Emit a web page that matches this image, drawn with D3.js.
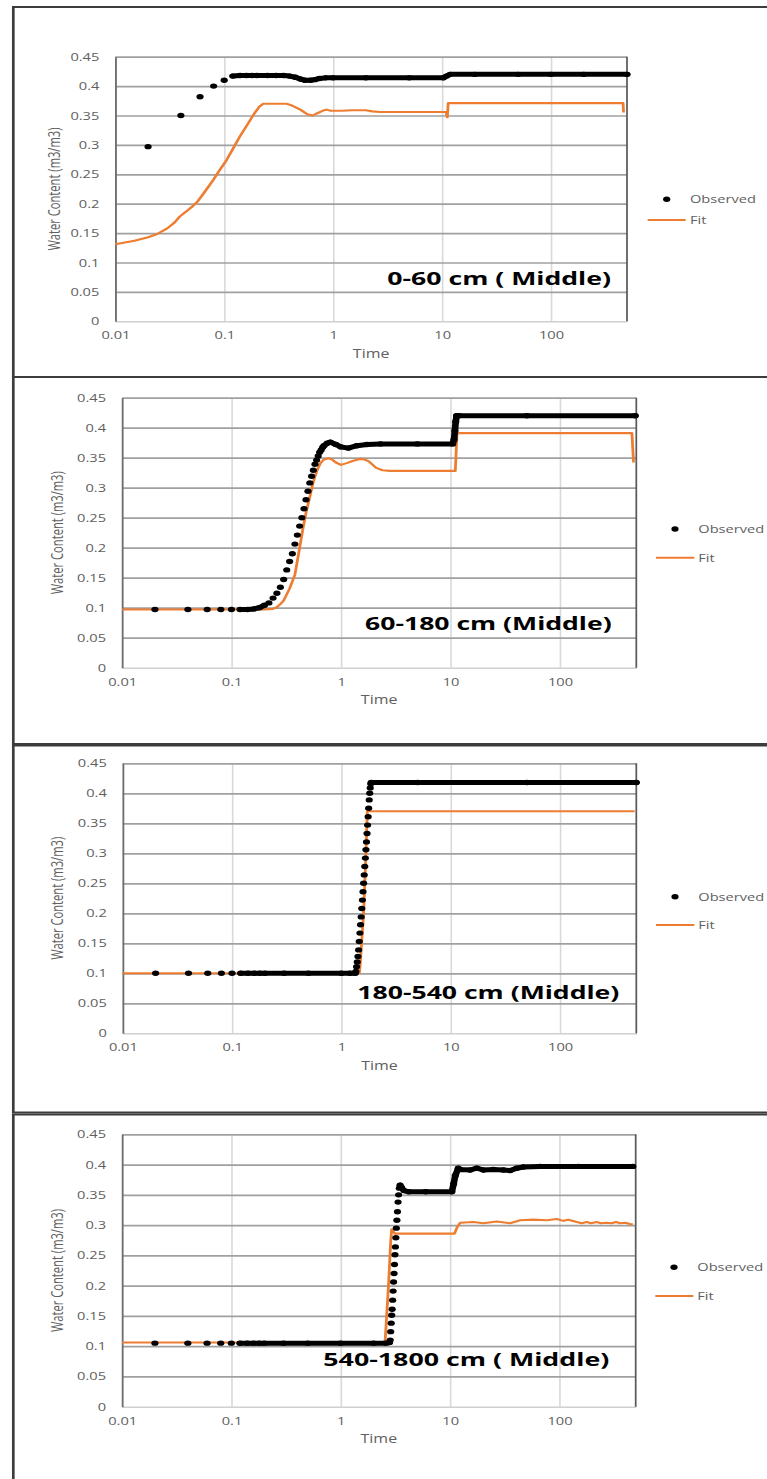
<!DOCTYPE html>
<html>
<head>
<meta charset="utf-8">
<script src="https://cdn.jsdelivr.net/npm/d3@7/dist/d3.min.js"></script>
<style>
  html, body { margin: 0; padding: 0; background: #fff; }
  svg { display: block; }
</style>
</head>
<body>
<svg id="chart" width="767" height="1479"></svg>
<script>
// ---------------- DATA ----------------
const timeTicks = [0.01, 0.1, 1, 10, 100];
const timeTickLabels = ["0.01", "0.1", "1", "10", "100"];
const wcTicks = [0, 0.05, 0.1, 0.15, 0.2, 0.25, 0.3, 0.35, 0.4, 0.45];
const wcTickLabels = ["0", "0.05", "0.1", "0.15", "0.2", "0.25", "0.3", "0.35", "0.4", "0.45"];
const seriesNames = ["Observed", "Fit"];
const xTitle = "Time";
const yTitle = "Water Content (m3/m3)";
const panelTitles = ["0-60 cm ( Middle)", "60-180 cm (Middle)", "180-540 cm (Middle)", "540-1800 cm ( Middle)"];

// Panel 1: 0-60 cm
const observed1 = [
  [0.02,0.297],[0.04,0.35],[0.06,0.382],[0.08,0.40],[0.10,0.41],
  [0.12,0.417],[0.14,0.418],[0.16,0.418],[0.18,0.418],[0.20,0.418],[0.25,0.418],[0.30,0.418],
  [0.35,0.418],[0.40,0.417],[0.45,0.415],[0.50,0.412],[0.55,0.41],[0.62,0.41],[0.68,0.411],
  [0.75,0.413],[0.85,0.414],[1,0.414],[2,0.414],[5,0.414],[10.3,0.414],[11,0.417],[11.9,0.42],
  [20,0.42],[50,0.42],[100,0.42],[200,0.42],[500,0.42]
];
const fit1 = [
  [0.01,0.131],[0.015,0.137],[0.02,0.143],[0.024,0.148],[0.03,0.158],[0.035,0.168],[0.039,0.178],
  [0.045,0.187],[0.05,0.194],[0.056,0.202],[0.065,0.218],[0.079,0.24],[0.09,0.256],[0.105,0.274],
  [0.12,0.293],[0.139,0.314],[0.16,0.332],[0.19,0.354],[0.21,0.365],[0.228,0.37],[0.3,0.37],
  [0.373,0.37],[0.42,0.367],[0.5,0.36],[0.58,0.352],[0.65,0.35],[0.7,0.353],[0.8,0.358],
  [0.87,0.36],[0.95,0.358],[1.2,0.358],[1.5,0.359],[2.0,0.359],[2.3,0.357],[2.7,0.356],
  [5,0.356],[10.9,0.356],[11.2,0.347],[11.4,0.371],[20,0.371],[100,0.371],[460,0.371],[465,0.355]
];
const denseRanges1 = [[0.12, 500]];

// Panel 2: 60-180 cm
const observed2 = [
  [0.02,0.097],[0.04,0.097],[0.06,0.097],[0.08,0.097],[0.10,0.097],[0.12,0.097],[0.14,0.097],
  [0.16,0.098],[0.18,0.100],[0.20,0.104],[0.22,0.108],[0.24,0.116],[0.26,0.124],[0.28,0.134],
  [0.30,0.147],[0.32,0.163],[0.34,0.177],[0.36,0.190],[0.38,0.206],[0.40,0.221],[0.42,0.236],
  [0.44,0.25],[0.46,0.265],[0.48,0.28],[0.50,0.294],[0.52,0.308],[0.54,0.319],[0.56,0.329],
  [0.58,0.339],[0.60,0.346],[0.62,0.353],[0.64,0.359],[0.66,0.363],[0.68,0.367],[0.70,0.370],
  [0.75,0.374],[0.80,0.376],[0.90,0.372],[1.0,0.368],[1.17,0.366],[1.4,0.37],[1.73,0.372],
  [2.3,0.373],[5,0.373],[10.5,0.373],[10.8,0.38],[11,0.395],[11.2,0.41],[11.4,0.42],[12,0.42],
  [50,0.42],[489,0.42]
];
const fit2 = [
  [0.01,0.097],[0.2,0.097],[0.24,0.098],[0.26,0.101],[0.28,0.106],[0.30,0.112],[0.34,0.132],
  [0.38,0.155],[0.40,0.178],[0.42,0.2],[0.45,0.232],[0.48,0.258],[0.52,0.285],[0.56,0.31],
  [0.60,0.327],[0.65,0.341],[0.70,0.347],[0.77,0.349],[0.83,0.347],[0.9,0.342],[1.0,0.338],
  [1.13,0.341],[1.3,0.345],[1.5,0.348],[1.65,0.347],[1.8,0.344],[2.1,0.333],[2.4,0.329],
  [2.8,0.328],[11.1,0.328],[11.5,0.391],[456,0.391],[472,0.342]
];
const denseRanges2 = [[0.12, 0.2], [0.7, 500]];

// Panel 3: 180-540 cm
const observed3 = [
  [0.02,0.1],[0.04,0.1],[0.06,0.1],[0.08,0.1],[0.10,0.1],[0.12,0.1],[0.14,0.1],[0.16,0.1],
  [0.18,0.1],[0.2,0.1],[0.3,0.1],[0.5,0.1],[1,0.1],[1.2,0.1],[1.34,0.1],
  [1.36,0.103],[1.38,0.111],[1.40,0.119],[1.42,0.128],[1.44,0.139],[1.46,0.153],[1.48,0.167],
  [1.50,0.181],[1.52,0.194],[1.54,0.208],[1.56,0.222],[1.58,0.236],[1.60,0.25],[1.62,0.264],
  [1.64,0.278],[1.66,0.292],[1.68,0.306],[1.70,0.319],[1.72,0.333],[1.74,0.347],[1.76,0.361],
  [1.78,0.375],[1.80,0.389],[1.82,0.40],[1.84,0.409],[1.86,0.416],[1.88,0.418],
  [5,0.418],[50,0.418],[500,0.418]
];
const fit3 = [
  [0.01,0.1],[1.46,0.1],[1.49,0.115],[1.6,0.2],[1.68,0.3],[1.73,0.37],[483,0.37]
];
const denseRanges3 = [[0.12, 1.34], [1.88, 500]];

// Panel 4: 540-1800 cm
const observed4 = [
  [0.02,0.105],[0.04,0.105],[0.06,0.105],[0.08,0.105],[0.10,0.105],[0.12,0.105],[0.14,0.105],
  [0.16,0.105],[0.18,0.105],[0.2,0.105],[0.3,0.105],[0.5,0.105],[1,0.105],[2,0.105],[2.6,0.105],
  [2.8,0.106],
  [2.84,0.11],[2.87,0.124],[2.9,0.138],[2.93,0.151],[2.96,0.161],[2.99,0.176],[3.02,0.191],
  [3.05,0.206],[3.08,0.22],[3.11,0.235],[3.14,0.251],[3.17,0.264],[3.2,0.279],[3.23,0.295],
  [3.27,0.308],[3.31,0.322],[3.35,0.338],[3.39,0.35],[3.44,0.361],[3.5,0.366],
  [3.6,0.362],[3.8,0.357],[4.2,0.355],[6,0.355],[10.4,0.355],[10.8,0.368],[11.2,0.382],
  [11.9,0.394],[12.4,0.392],[15.3,0.391],[17.6,0.394],[20.2,0.391],[24.9,0.392],[30.8,0.391],
  [35.5,0.39],[40.8,0.394],[47,0.396],[66.7,0.397],[150,0.397],[470,0.397]
];
const fit4 = [
  [0.01,0.106],[2.52,0.106],[2.56,0.112],[2.74,0.2],[2.87,0.273],[2.93,0.293],[3.0,0.29],
  [3.13,0.286],[11.0,0.286],[11.6,0.296],[12.4,0.304],[16.4,0.305],[20.2,0.303],[26.8,0.306],
  [35.5,0.303],[43.8,0.308],[57.9,0.309],[76.9,0.308],[94.9,0.31],[109,0.307],[121,0.309],
  [145,0.305],[160,0.303],[178,0.305],[195,0.303],[220,0.305],[240,0.303],[272,0.304],
  [300,0.303],[330,0.305],[360,0.303],[400,0.304],[444,0.302],[470,0.301]
];
const denseRanges4 = [[0.12, 2.8], [3.5, 500]];

const observedSets = [observed1, observed2, observed3, observed4];
const fitSets = [fit1, fit2, fit3, fit4];
const denseSets = [denseRanges1, denseRanges2, denseRanges3, denseRanges4];

// ---------------- LAYOUT (real pixels) ----------------
const S = 1.33; // horizontal stretch of the original picture
const X = v => v / S;
const layouts = [
  { frame:[7,377],      plot:{x0:115.3,x1:627,  y0:56.7,  y1:321.3},  ytx:54.3, leg:{l0:647.7,l1:685.7,m:666.7,t:690,  yo:199.3,yf:220},  title:{x:387.3,y:285.5,w:223.7} },
  { frame:[377,744],    plot:{x0:122,  x1:636.3,y0:397.7, y1:667.7},  ytx:57.3, leg:{l0:656,  l1:694.3,m:675,  t:698.3,yo:529,  yf:557.7}, title:{x:365,  y:630.5,w:246.7} },
  { frame:[745.5,1112.5],plot:{x0:122.7,x1:636.3,y0:763.3, y1:1033.3}, ytx:57.3, leg:{l0:656,  l1:694.3,m:675,  t:698.3,yo:896.7,yf:925},   title:{x:357.3,y:999,  w:262} },
  { frame:[1114.5,1520],plot:{x0:122,  x1:635.7,y0:1134.3,y1:1406.7}, ytx:57.3, leg:{l0:655.3,l1:693.3,m:674,  t:697.3,yo:1267.3,yf:1296},title:{x:323.3,y:1366.5,w:286} }
];

const FONT = "'Open Sans', 'Liberation Sans', sans-serif";
const GREY_TEXT = "#606060";
const ORANGE = "#ED7D31";

const svg = d3.select("#chart");
svg.append("rect").attr("width", 767).attr("height", 1479).attr("fill", "#fff");
const root = svg.append("g").attr("transform", `scale(${S},1)`);

layouts.forEach((L, i) => {
  const p = L.plot;
  const g = root.append("g");

  // outer frame
  g.append("rect")
    .attr("x", X(13.3)).attr("y", L.frame[0])
    .attr("width", X(820)).attr("height", L.frame[1] - L.frame[0])
    .attr("fill", "none").attr("stroke", "#3c3c3c").attr("stroke-width", 2);

  const x = d3.scaleLog().domain([0.01, 500]).range([X(p.x0), X(p.x1)]);
  const y = d3.scaleLinear().domain([0, 0.45]).range([p.y1, p.y0]);

  // vertical gridlines
  g.append("g").attr("transform", `translate(0,${p.y1})`)
    .call(d3.axisBottom(x).tickValues(timeTicks.slice(1)).tickSize(-(p.y1 - p.y0)).tickFormat(""))
    .call(a => { a.select(".domain").remove(); a.selectAll("line").attr("stroke", "#d9d9d9").attr("stroke-width", 1.2); });

  // horizontal gridlines
  g.append("g").attr("transform", `translate(${X(p.x0)},0)`)
    .call(d3.axisLeft(y).tickValues(wcTicks.slice(1)).tickSize(-(X(p.x1) - X(p.x0))).tickFormat(""))
    .call(a => { a.select(".domain").remove(); a.selectAll("line").attr("stroke", "#a0a0a0").attr("stroke-width", 1.7); });

  // x axis (light line at 0) with labels
  g.append("g").attr("transform", `translate(0,${p.y1})`)
    .call(d3.axisBottom(x).tickValues(timeTicks).tickFormat((d, k) => timeTickLabels[k]).tickSize(0).tickPadding(10).tickSizeOuter(0))
    .call(a => {
      a.select(".domain").attr("stroke", "#d0d0d0").attr("stroke-width", 1.6);
      a.selectAll("text").attr("font-family", FONT).attr("font-size", 11).attr("fill", GREY_TEXT);
    });

  // right border of plot area
  g.append("line").attr("x1", x(500)).attr("x2", x(500)).attr("y1", p.y0).attr("y2", p.y1)
    .attr("stroke", "#595959").attr("stroke-width", 1.3);

  // y axis
  g.append("g").attr("transform", `translate(${X(p.x0)},0)`)
    .call(d3.axisLeft(y).tickValues(wcTicks).tickFormat((d, k) => wcTickLabels[k]).tickSize(0).tickPadding(12).tickSizeOuter(0))
    .call(a => {
      a.select(".domain").attr("stroke", "#6e6e6e").attr("stroke-width", 1.4);
      a.selectAll("text").attr("font-family", FONT).attr("font-size", 11).attr("fill", GREY_TEXT);
    });

  // axis titles
  g.append("text")
    .attr("transform", `translate(${X(L.ytx)},${(p.y0 + p.y1) / 2}) rotate(-90)`)
    .attr("text-anchor", "middle").attr("dy", "0.35em")
    .attr("font-family", FONT).attr("font-size", 12).attr("fill", GREY_TEXT)
    .attr("textLength", 123).attr("lengthAdjust", "spacingAndGlyphs")
    .text(yTitle);
  g.append("text")
    .attr("x", X((p.x0 + p.x1) / 2)).attr("y", p.y1 + 36.5)
    .attr("text-anchor", "middle")
    .attr("font-family", FONT).attr("font-size", 12).attr("fill", GREY_TEXT)
    .text(xTitle);

  // Fit line (drawn below observed markers)
  const line = d3.line().x(d => x(d[0])).y(d => y(d[1]));
  g.append("path").datum(fitSets[i])
    .attr("d", line).attr("fill", "none")
    .attr("stroke", ORANGE).attr("stroke-width", 2.1).attr("stroke-linejoin", "round");

  // Observed: dense runs of merged markers
  const obs = observedSets[i];
  denseSets[i].forEach(r => {
    const run = obs.filter(d => d[0] >= r[0] && d[0] <= r[1]);
    g.append("path").datum(run)
      .attr("d", line).attr("fill", "none")
      .attr("stroke", "#000").attr("stroke-width", 5)
      .attr("stroke-linecap", "round").attr("stroke-linejoin", "round");
  });
  // Observed markers
  g.append("g").selectAll("circle").data(obs).join("circle")
    .attr("cx", d => x(d[0])).attr("cy", d => y(d[1])).attr("r", 2.7).attr("fill", "#000");

  // Title inside plot
  g.append("text")
    .attr("x", X(L.title.x)).attr("y", L.title.y)
    .attr("font-family", FONT).attr("font-weight", "bold").attr("font-size", 18).attr("fill", "#000")
    .attr("textLength", X(L.title.w)).attr("lengthAdjust", "spacingAndGlyphs")
    .text(panelTitles[i]);

  // Legend
  const lg = L.leg;
  g.append("circle").attr("cx", X(lg.m)).attr("cy", lg.yo).attr("r", 2.7).attr("fill", "#000");
  g.append("text").attr("x", X(lg.t)).attr("y", lg.yo).attr("dy", "0.35em")
    .attr("font-family", FONT).attr("font-size", 11).attr("fill", GREY_TEXT).text(seriesNames[0]);
  g.append("line").attr("x1", X(lg.l0)).attr("x2", X(lg.l1)).attr("y1", lg.yf).attr("y2", lg.yf)
    .attr("stroke", ORANGE).attr("stroke-width", 2.1);
  g.append("text").attr("x", X(lg.t)).attr("y", lg.yf).attr("dy", "0.35em")
    .attr("font-family", FONT).attr("font-size", 11).attr("fill", GREY_TEXT).text(seriesNames[1]);
});
</script>
</body>
</html>
